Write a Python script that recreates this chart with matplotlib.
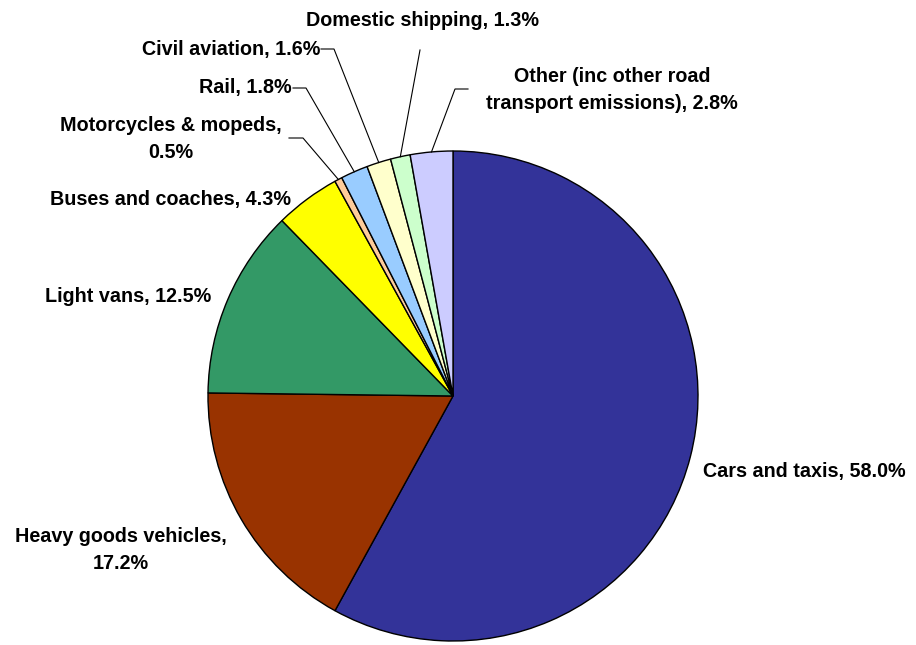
import numpy as np
import matplotlib.pyplot as plt

plt.rcParams['font.family'] = ['Liberation Sans', 'DejaVu Sans']

categories = ['Cars and taxis', 'Heavy goods vehicles', 'Light vans', 'Buses and coaches',
              'Motorcycles & mopeds', 'Rail', 'Civil aviation', 'Domestic shipping',
              'Other (inc other road transport emissions)']
shares = [58.0, 17.2, 12.5, 4.3, 0.5, 1.8, 1.6, 1.3, 2.8]
colors = ['#333399', '#993300', '#339966', '#FFFF00', '#FFCC99',
          '#99CCFF', '#FFFFCC', '#CCFFCC', '#CCCCFF']
label_text = ['Cars and taxis, 58.0%',
              'Heavy goods vehicles,\n17.2%',
              'Light vans, 12.5%',
              'Buses and coaches, 4.3%',
              'Motorcycles & mopeds,\n0.5%',
              'Rail, 1.8%',
              'Civil aviation, 1.6%',
              'Domestic shipping, 1.3%',
              'Other (inc other road\ntransport emissions), 2.8%']

W, H = 916, 645
fig = plt.figure(figsize=(W / 100, H / 100), dpi=100)
ax = fig.add_axes([0, 0, 1, 1])

cx, cy, r = 453, H - 396, 245
ax.pie(shares, colors=colors, startangle=90, counterclock=False, center=(cx, cy),
       radius=r, frame=True, wedgeprops=dict(edgecolor='black', linewidth=1.0))
ax.set_xlim(0, W)
ax.set_ylim(0, H)
ax.set_aspect('equal')
ax.axis('off')

# label placement (pixel coords from top), alignment, leader elbow
layout = {
    0: dict(xy=(703, 472), ha='left', lead=None),
    1: dict(xy=(121, 550), ha='center', lead=None),
    2: dict(xy=(45, 296), ha='left', lead=None),
    3: dict(xy=(50, 199), ha='left', lead=None),
    4: dict(xy=(171, 139), ha='center', lead=[(289, 138), (303, 138)]),
    5: dict(xy=(292, 88), ha='right', lead=[(293, 88), (306, 88)]),
    6: dict(xy=(320, 49), ha='right', lead=[(321, 49), (334, 49)]),
    7: dict(xy=(422, 20), ha='center', lead=[(420, 50)]),
    8: dict(xy=(612, 90), ha='center', lead=[(468, 89), (455, 89)]),
}

cum = np.cumsum([0] + shares[:-1])
for i, txt in enumerate(label_text):
    lay = layout[i]
    x, y = lay['xy']
    ax.text(x, H - y, txt, ha=lay['ha'], va='center', fontsize=14.2,
            fontweight='bold', linespacing=1.5)
    if lay['lead']:
        mid = cum[i] + shares[i] / 2
        ang = np.deg2rad(90 - 360 * mid / 100)
        ex, ey = cx + r * np.cos(ang), cy + r * np.sin(ang)
        pts = [(px, H - py) for px, py in lay['lead']] + [(ex, ey)]
        xs, ys = zip(*pts)
        ax.plot(xs, ys, color='black', linewidth=0.8)

fig.savefig('out.png', dpi=100)
